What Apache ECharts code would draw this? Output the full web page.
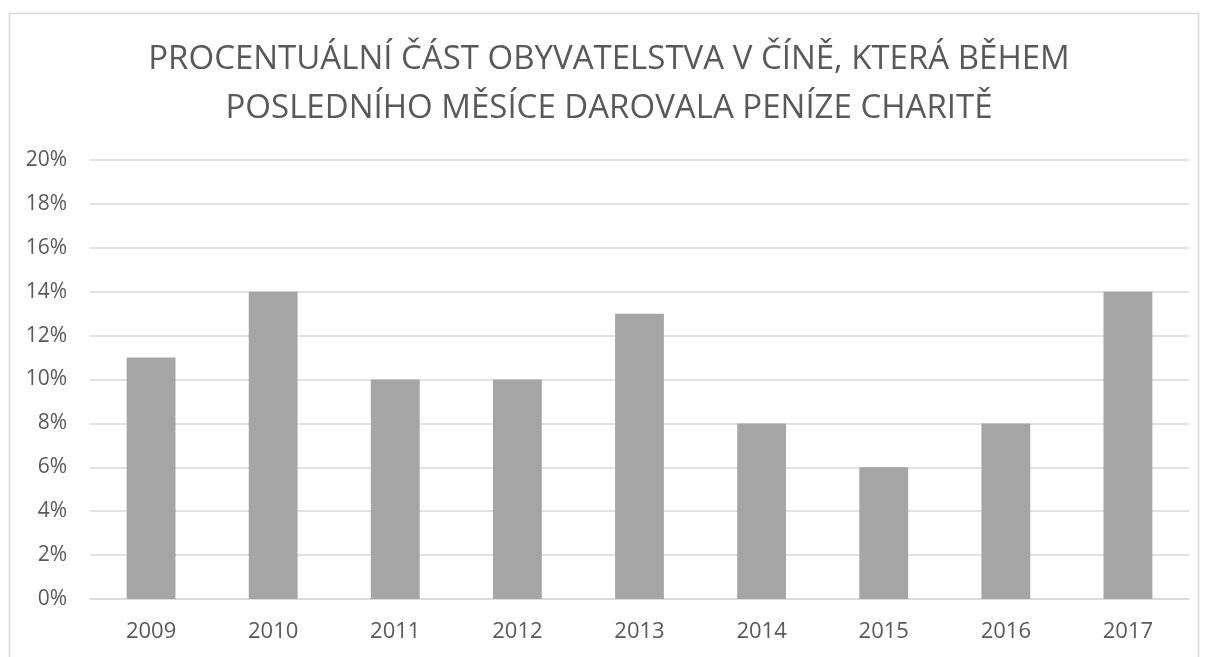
<!DOCTYPE html>
<html>
  <head>
    <meta charset="utf-8" />
    <title>Darování charitě v Číně</title>
    <script src="https://cdn.jsdelivr.net/npm/echarts@6/dist/echarts.min.js"></script>
    <style>
      * {
        margin: 0;
        padding: 0;
      }
      html,
      body,
      #container {
        width: 100%;
        height: 100%;
        background: #fff;
      }
    </style>
  </head>
  <body>
    <div id="container"></div>
    <script>
      const years = ["2009", "2010", "2011", "2012", "2013", "2014", "2015", "2016", "2017"];
      const shares = [11, 14, 10, 10, 13, 8, 6, 8, 14];
      const titleLines = [
        "PROCENTUÁLNÍ ČÁST OBYVATELSTVA V ČÍNĚ, KTERÁ BĚHEM",
        "POSLEDNÍHO MĚSÍCE DAROVALA PENÍZE CHARITĚ",
      ];

      const textColor = "#595959";
      const font = "Open Sans";
      var myChart = echarts.init(document.getElementById("container"));

      myChart.setOption({
        animation: false,
        textStyle: { fontFamily: font },
        title: {
          text: titleLines.join("\n"),
          left: "50%",
          top: 30,
          textAlign: "center",
          textStyle: {
            fontFamily: font,
            fontWeight: "normal",
            fontSize: 33,
            lineHeight: 49,
            color: textColor,
          },
        },
        graphic: [
          {
            type: "rect",
            shape: { x: 9.5, y: 13.5, width: 1189, height: 700 },
            style: { fill: "none", stroke: "#d9d9d9", lineWidth: 1.5 },
            silent: true,
          },
        ],
        grid: { left: 90, right: 19, top: 160, bottom: 58 },
        xAxis: {
          type: "category",
          data: years,
          axisTick: { show: false },
          axisLine: { lineStyle: { color: "#d9d9d9", width: 1.5 } },
          axisLabel: { color: textColor, fontSize: 22, margin: 22 },
        },
        yAxis: {
          type: "value",
          min: 0,
          max: 20,
          interval: 2,
          axisLine: { show: false },
          axisTick: { show: false },
          splitLine: { lineStyle: { color: "#d9d9d9", width: 1.5 } },
          axisLabel: {
            color: textColor,
            fontSize: 21,
            margin: 23,
            formatter: "{value}%",
          },
        },
        series: [
          {
            type: "bar",
            data: shares,
            barWidth: "40%",
            itemStyle: { color: "#a5a5a5" },
          },
        ],
      });
    </script>
  </body>
</html>
